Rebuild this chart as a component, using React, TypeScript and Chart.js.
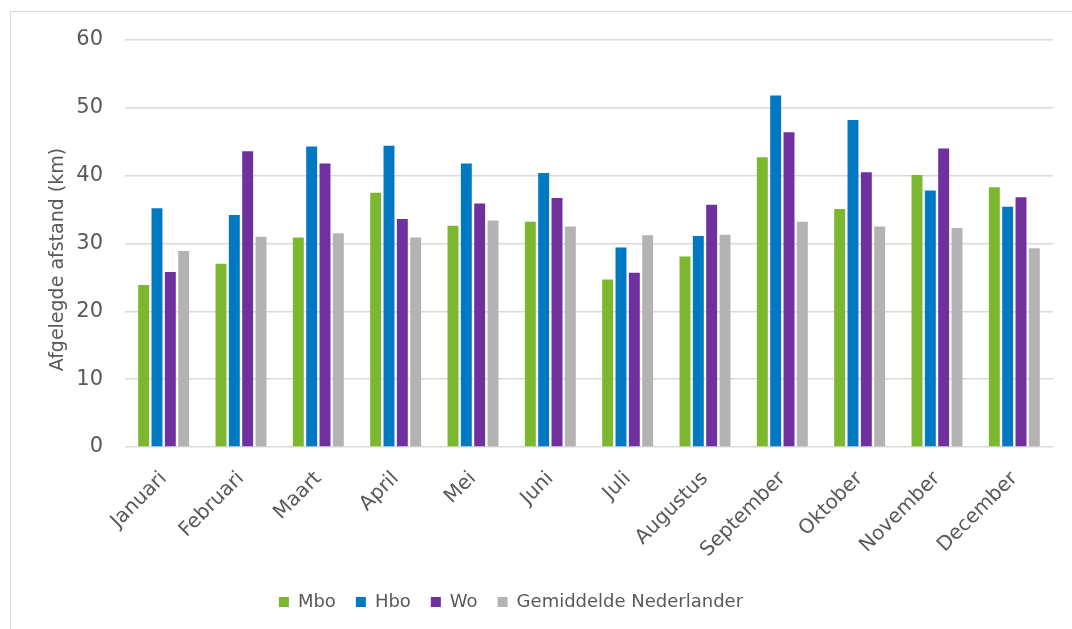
import React, { useEffect, useRef } from "react";
import { Chart, registerables } from "chart.js";

Chart.register(...registerables);

const categories = [
  "Januari", "Februari", "Maart", "April", "Mei", "Juni",
  "Juli", "Augustus", "September", "Oktober", "November", "December",
];
const mbo = [23.9, 27.0, 30.9, 37.5, 32.6, 33.2, 24.7, 28.1, 42.7, 35.1, 40.1, 38.3];
const hbo = [35.2, 34.2, 44.3, 44.4, 41.8, 40.4, 29.4, 31.1, 51.8, 48.2, 37.8, 35.4];
const wo = [25.8, 43.6, 41.8, 33.6, 35.9, 36.7, 25.7, 35.7, 46.4, 40.5, 44.0, 36.8];
const gemiddeld = [28.9, 31.0, 31.5, 30.9, 33.4, 32.5, 31.2, 31.3, 33.2, 32.5, 32.3, 29.3];
const seriesNames = ["Mbo", "Hbo", "Wo", "Gemiddelde Nederlander"];
const yTitle = "Afgelegde afstand (km)";

const FONT = "'DejaVu Sans', Verdana, sans-serif";
const TEXT_COLOR = "#595959";

const legendShift = {
  id: "legendShift",
  afterLayout(chart: any) {
    const lg = chart.legend;
    if (lg) {
      lg.left -= 35;
      lg.right -= 35;
    }
  },
};

const yTitlePlugin = {
  id: "yTitlePlugin",
  afterDraw(chart: any) {
    const ctx = chart.ctx;
    const area = chart.chartArea;
    ctx.save();
    ctx.translate(58, (area.top + area.bottom) / 2 + 16);
    ctx.rotate(-Math.PI / 2);
    ctx.font = `19px ${FONT}`;
    ctx.fillStyle = TEXT_COLOR;
    ctx.textAlign = "center";
    ctx.textBaseline = "middle";
    ctx.fillText(yTitle, 0, 0);
    ctx.restore();
  },
};

export default function App() {
  const ref = useRef<HTMLCanvasElement>(null);
  useEffect(() => {
    if (!ref.current) return;
    const chart = new Chart(ref.current, {
      type: "bar",
      data: {
        labels: categories,
        datasets: [
          { label: seriesNames[0], data: mbo, backgroundColor: "#7CB82F" },
          { label: seriesNames[1], data: hbo, backgroundColor: "#0079C3" },
          { label: seriesNames[2], data: wo, backgroundColor: "#7030A0" },
          { label: seriesNames[3], data: gemiddeld, backgroundColor: "#B3B3B3" },
        ],
      },
      plugins: [legendShift, yTitlePlugin],
      options: {
        animation: false,
        responsive: false,
        devicePixelRatio: 1,
        datasets: { bar: { categoryPercentage: 0.69, barPercentage: 0.82 } },
        layout: { padding: { left: 39, top: 40, right: 19, bottom: 8 } },
        plugins: {
          legend: {
            position: "bottom",
            labels: {
              boxWidth: 10,
              boxHeight: 10,
              padding: 20,
              color: TEXT_COLOR,
              font: { family: FONT, size: 18 },
            },
          },
          tooltip: { enabled: false },
        },
        scales: {
          x: {
            grid: { display: false, drawTicks: false },
            border: { display: false },
            ticks: {
              color: TEXT_COLOR,
              font: { family: FONT, size: 20 },
              minRotation: 45,
              maxRotation: 45,
              padding: 20,
            },
            afterFit: (s: any) => { s.height = 126; },
          },
          y: {
            min: 0,
            max: 60,
            ticks: {
              stepSize: 10,
              color: TEXT_COLOR,
              font: { family: FONT, size: 21 },
              padding: 22,
            },
            grid: { color: "#D9D9D9", lineWidth: 1.5, drawTicks: false },
            border: { display: false },
            title: { display: false },
            afterFit: (s: any) => { s.width = 86; },
          },
        },
      },
    });
    return () => chart.destroy();
  }, []);
  return (
    <div style={{ position: "fixed", left: 0, top: 0, width: 1072, height: 629, background: "#fff" }}>
      <div style={{ position: "absolute", left: 10, top: 11, width: 1100, height: 700, border: "1px solid #D9D9D9", boxSizing: "border-box" }} />
      <canvas ref={ref} width={1072} height={629} style={{ position: "absolute", left: 0, top: 0 }} />
    </div>
  );
}
